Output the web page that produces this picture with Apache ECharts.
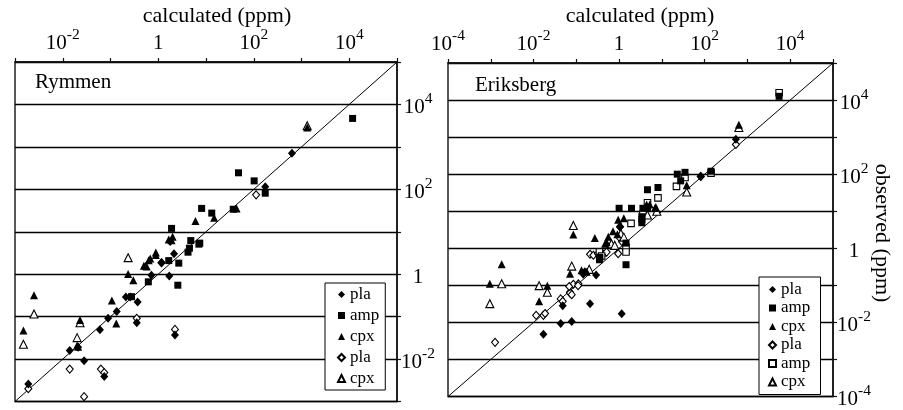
<!DOCTYPE html>
<html><head><meta charset="utf-8">
<script src="https://cdn.jsdelivr.net/npm/echarts@6/dist/echarts.min.js"></script>
<style>html,body{margin:0;padding:0;background:#fff}#c{width:903px;height:410px}</style>
</head><body><div id="c"></div>
<script>
// values in ppm: [calculated, observed]
const rymPla = [[631,708],[174,115],[2.14,3.02],[1.17,1.86],[1.78,5.9],[0.72,0.95],[1.70,0.91],[0.21,0.29],[0.26,0.29],[0.37,0.22],[0.135,0.132],[0.089,0.091],[0.355,0.072],[2.24,0.037],[0.060,0.049],[0.021,0.019],[0.014,0.016],[0.028,0.0091],[0.074,0.0039],[0.0019,0.0026]];
const rymAmp = [[11750,4680],[47.9,245],[102,158],[174,81],[8.1,35.5],[13.2,27.5],[37.2,33.9],[7.4,5.4],[1.9,12.0],[4.8,6.2],[4.5,4.1],[7.1,5.1],[4.2,3.3],[1.66,2.09],[2.69,1.82],[0.62,0.66],[2.57,0.55],[0.275,0.295]];
const rymCpx = [[1318,2880],[14.8,21.4],[43.7,35.5],[6.0,17.8],[1.66,6.6],[1.9,6.3],[2.0,7.6],[0.89,3.24],[0.89,2.82],[0.68,2.34],[0.63,2.14],[0.54,1.58],[0.575,1.51],[0.50,1.58],[0.234,1.01],[0.30,0.72],[0.107,0.24],[0.0025,0.32],[0.0015,0.047],[0.023,0.083],[0.020,0.021],[0.021,0.0195],[0.132,0.069]];
const rymPlaOpen = [[112,74],[1.17,1.86],[0.355,0.091],[2.24,0.050],[0.014,0.0058],[0.063,0.0058],[0.074,0.0048],[0.028,0.0013],[0.0019,0.0020]];
const rymCpxOpen = [[1318,3160],[0.234,2.45],[0.0025,0.115],[0.0015,0.0224],[0.023,0.072],[0.020,0.032]];

const eriPla = [[537,871],[81,87],[1.05,3.8],[0.145,0.20],[0.158,0.234],[0.29,0.19],[0.043,0.0093],[0.078,0.0105],[0.048,0.028],[0.017,0.0048],[0.209,0.0316],[1.15,0.017]];
const eriAmp = [[5500,12600],[141,120],[34.7,112],[22.9,100],[27.5,66],[8.1,43.7],[4.6,38],[3.4,6.0],[3.4,4.9],[1.0,12.0],[1.95,12.0],[3.6,12.0],[4.6,12.3],[3.4,7.1],[1.45,1.38],[1.45,0.36],[0.355,0.575],[0.347,0.49]];
const eriCpx = [[631,2140],[38,50],[4.4,15.1],[6.9,12.3],[5.2,15.1],[7.2,12.9],[0.95,5.9],[1.29,6.5],[0.085,2.34],[0.27,1.9],[0.56,2.04],[0.72,2.9],[0.91,2.4],[0.51,1.45],[0.47,1.32],[0.071,0.204],[0.132,0.257],[0.174,0.234],[0.0018,0.37],[0.00095,0.11],[0.021,0.098],[0.0135,0.037]];
const eriPlaOpen = [[537,631],[81,87],[1.05,3.8],[1.0,2.0],[1.17,1.51],[0.95,0.71],[0.209,0.69],[0.25,0.65],[0.32,0.71],[0.43,0.69],[0.51,0.79],[0.085,0.107],[0.112,0.11],[0.071,0.065],[0.00126,0.0029],[0.0115,0.0155],[0.017,0.0155],[0.0186,0.0174],[0.043,0.043],[0.048,0.037],[0.071,0.062],[0.078,0.056],[0.068,0.093],[0.11,0.098]];
const eriAmpOpen = [[5500,15800],[141,107],[34.7,81],[21.9,46.8],[8.1,22.9],[4.6,17],[3.6,8.3],[1.9,4.7],[1.45,1.07],[1.45,0.79],[0.347,0.79],[0.39,0.62]];
const eriCpxOpen = [[631,1820],[38,33],[7.6,10],[4.6,7.9],[1.1,2.5],[1.29,2.0],[0.66,1.32],[0.79,1.2],[0.085,4.1],[0.078,0.33],[0.20,0.27],[0.0018,0.11],[0.00095,0.032],[0.0135,0.098],[0.021,0.065]];

const rymRange = [1e-3, 1e5];
const eriRange = [1e-4, 1e5];
const panelNames = ['Rymmen', 'Eriksberg'];
const xTitle = 'calculated (ppm)';
const yTitle = 'observed (ppm)';

const FONT = '"Liberation Serif", "Times New Roman", serif';
const lg = v => Math.log10(v);
const toLog = arr => arr.map(p => [lg(p[0]), lg(p[1])]);

function expLabel(v) {
  const e = Math.round(v);
  if (e % 2 !== 0) return '';
  if (e === 0) return '{b|1}';
  return '{b|10}{s|' + e + '}';
}
const rich = {
  b: {fontFamily: FONT, fontSize: 21, color: '#000', lineHeight: 27, verticalAlign: 'bottom'},
  s: {fontFamily: FONT, fontSize: 15.5, color: '#000', lineHeight: 15, verticalAlign: 'top'}
};

const styles = {
  'pla':  {symbol: 'diamond', size: [8, 9], fill: '#000'},
  'amp':  {symbol: 'rect', size: 7, fill: '#000'},
  'cpx':  {symbol: 'triangle', size: [8, 8], fill: '#000'},
  'pla ': {symbol: 'diamond', size: [7, 8], fill: '#fff'},
  'amp ': {symbol: 'rect', size: 6.5, fill: '#fff'},
  'cpx ': {symbol: 'triangle', size: [8, 8], fill: '#fff'}
};
function sc(name, data, gi) {
  const st = styles[name];
  return {
    type: 'scatter', name: name, xAxisIndex: gi, yAxisIndex: gi,
    symbol: st.symbol, symbolSize: st.size,
    itemStyle: st.fill === '#fff'
      ? {color: '#fff', borderColor: '#000', borderWidth: 1.1, opacity: 1}
      : {color: '#000', borderColor: '#000', borderWidth: 0, opacity: 1},
    data: toLog(data), silent: true, z: st.fill === '#fff' ? 3 : 4
  };
}
function diag(range, gi) {
  return {type: 'line', xAxisIndex: gi, yAxisIndex: gi, symbol: 'none', silent: true,
    lineStyle: {color: '#000', width: 1}, data: [[lg(range[0]), lg(range[0])], [lg(range[1]), lg(range[1])]], z: 2};
}
function xAx(range, gi) {
  return {type: 'value', gridIndex: gi, position: 'top', min: lg(range[0]), max: lg(range[1]), interval: 1,
    axisLine: {show: true, onZero: false, lineStyle: {color: '#111', width: 1.5}},
    axisTick: {show: true, inside: false, length: 4, lineStyle: {color: '#111', width: 1.2}},
    axisLabel: {formatter: expLabel, rich: rich, margin: 8, showMinLabel: true, showMaxLabel: true},
    splitLine: {show: false}};
}
function yAx(range, gi) {
  return {type: 'value', gridIndex: gi, position: 'right', min: lg(range[0]), max: lg(range[1]), interval: 1,
    axisLine: {show: true, onZero: false, lineStyle: {color: '#111', width: 1.5}},
    axisTick: {show: true, inside: false, length: 4, lineStyle: {color: '#111', width: 1.2}},
    axisLabel: {formatter: expLabel, rich: rich, margin: 21, align: 'center', showMinLabel: true, showMaxLabel: true},
    splitLine: {show: true, lineStyle: {color: '#000', width: 1.4}}};
}

const chart = echarts.init(document.getElementById('c'), null, {renderer: 'canvas'});
chart.setOption({
  backgroundColor: '#fff',
  animation: false,
  textStyle: {fontFamily: FONT},
  grid: [
    {left: 15, top: 62, width: 382, height: 339.5, show: true, borderColor: '#222', borderWidth: 1.5, backgroundColor: 'transparent'},
    {left: 448, top: 63, width: 385, height: 338.5, show: true, borderColor: '#222', borderWidth: 1.5, backgroundColor: 'transparent'}
  ],
  xAxis: [xAx(rymRange, 0), xAx(eriRange, 1)],
  yAxis: [yAx(rymRange, 0), yAx(eriRange, 1)],
  legend: [
    {left: 325, top: 283, orient: 'vertical', data: ['pla', 'amp', 'cpx', 'pla ', 'cpx '],
     itemWidth: 7, itemHeight: 7, itemGap: 4, padding: [3, 6, 3, 12],
     borderColor: '#000', borderWidth: 1, backgroundColor: '#fff', selectedMode: false,
     textStyle: {fontFamily: FONT, fontSize: 17, color: '#000', lineHeight: 17}},
    {left: 759, top: 277, orient: 'vertical', data: ['pla', 'amp', 'cpx', 'pla ', 'amp ', 'cpx '],
     itemWidth: 7, itemHeight: 7, itemGap: 1.5, padding: [4, 6, 4, 9],
     borderColor: '#000', borderWidth: 1, backgroundColor: '#fff', selectedMode: false,
     textStyle: {fontFamily: FONT, fontSize: 17, color: '#000', lineHeight: 17}}
  ],
  graphic: [
    {type: 'text', left: 35, top: 72, style: {text: panelNames[0], font: '21px ' + FONT, fill: '#000'}},
    {type: 'text', left: 475, top: 75, style: {text: panelNames[1], font: '21px ' + FONT, fill: '#000'}},
    {type: 'text', x: 217, y: 16, style: {text: xTitle, font: '22px ' + FONT, fill: '#000', align: 'center', verticalAlign: 'middle'}},
    {type: 'text', x: 640, y: 16, style: {text: xTitle, font: '22px ' + FONT, fill: '#000', align: 'center', verticalAlign: 'middle'}},
    {type: 'text', x: 882, y: 233, rotation: -Math.PI / 2, style: {text: yTitle, font: '22px ' + FONT, fill: '#000', align: 'center', verticalAlign: 'middle'}}
  ],
  series: [
    diag(rymRange, 0), diag(eriRange, 1),
    sc('pla ', rymPlaOpen, 0), sc('cpx ', rymCpxOpen, 0),
    sc('pla', rymPla, 0), sc('amp', rymAmp, 0), sc('cpx', rymCpx, 0),
    sc('pla ', eriPlaOpen, 1), sc('amp ', eriAmpOpen, 1), sc('cpx ', eriCpxOpen, 1),
    sc('pla', eriPla, 1), sc('amp', eriAmp, 1), sc('cpx', eriCpx, 1)
  ]
});
</script></body></html>
